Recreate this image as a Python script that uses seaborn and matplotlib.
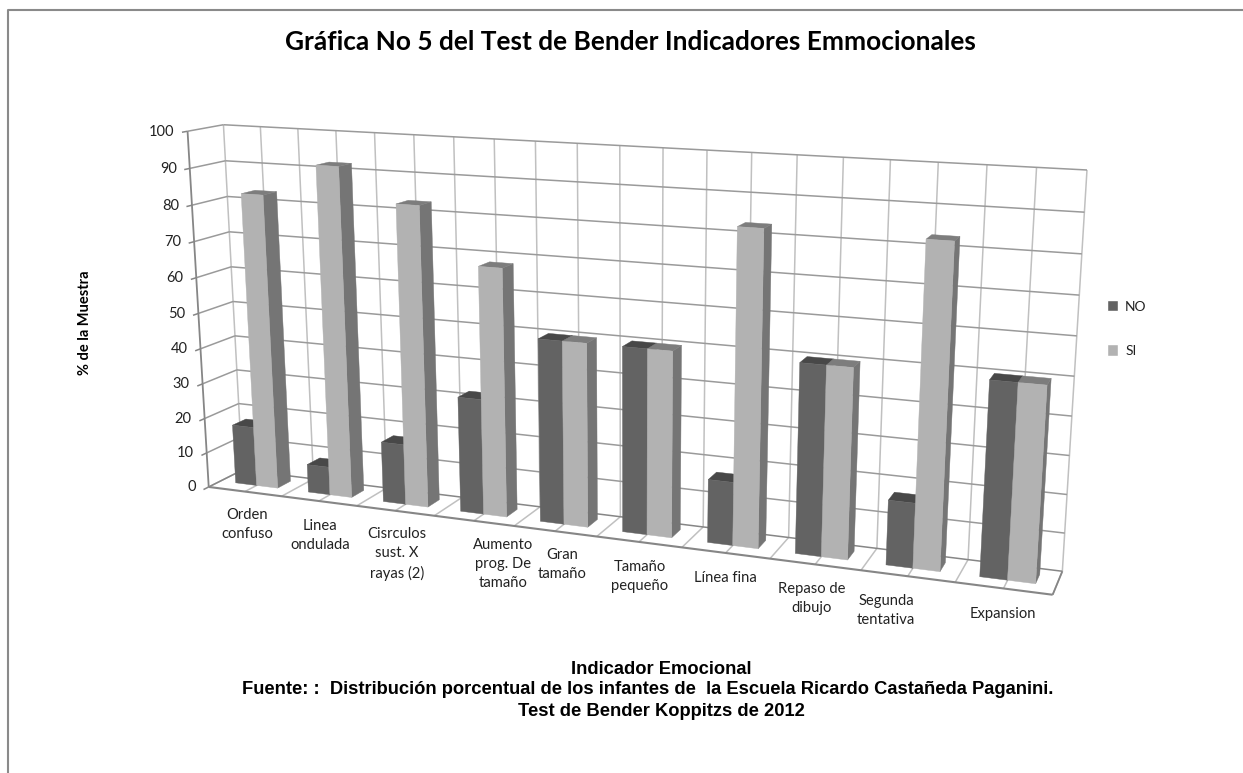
import numpy as np
import matplotlib
matplotlib.use("Agg")
import matplotlib.pyplot as plt
from matplotlib.patches import Polygon, Patch
import seaborn as sns

# Chart values (% of the sample)
categories = ["Orden\nconfuso", "Linea\nondulada", "Cisrculos\nsust. X\nrayas (2)",
              "Aumento\nprog. De\ntamaño", "Gran\ntamaño", "Tamaño\npequeño",
              "Línea fina", "Repaso de\ndibujo", "Segunda\ntentativa", "Expansion"]
no_values = [17, 8, 17, 32, 50, 50, 17, 50, 17, 50]
si_values = [83, 92, 83, 68, 50, 50, 83, 50, 83, 50]
series_names = ["NO", "SI"]
value_ticks = list(range(0, 101, 10))

# Where each category label sits on the page (centre x, top y)
label_anchor = [(247, 508), (320, 519), (397, 527), (503, 538), (562, 548),
                (640, 560), (725, 571), (812, 582), (886, 594), (1003, 607)]

sns.set_theme(style="white")
plt.rcParams["font.family"] = ["Lato", "DejaVu Sans"]
no_colors = {"front": "#636363", "top": "#484848", "side": "#4f4f4f"}
si_colors = {"front": "#b2b2b2", "top": "#7d7d7d", "side": "#757575"}
palette = sns.color_palette([no_colors["front"], si_colors["front"]])

fig = plt.figure(figsize=(12.43, 7.73), dpi=100)
ax = fig.add_axes([0, 0, 1, 1])
ax.set_xlim(0, 1243)
ax.set_ylim(773, 0)
ax.axis("off")

# Camera: box coordinates (category, depth, value) to page pixels
box_pts = [(0, 0, 0), (0, 1, 0), (0, 0, 100), (0, 1, 100), (10, 0, 0), (10, 1, 0), (10, 1, 100)]
page_pts = [(208, 486), (243, 471), (188, 132), (223, 124), (1053, 595), (1062, 571), (1087, 170)]
rows, rhs = [], []
for (bx, by, bz), (px, py) in zip(box_pts, page_pts):
    w = (bx / 10, by, bz / 100, 1)
    rows.append(list(w) + [0, 0, 0, 0] + [-px * c for c in w[:3]])
    rows.append([0, 0, 0, 0] + list(w) + [-py * c for c in w[:3]])
    rhs += [px, py]
sol = np.linalg.lstsq(np.array(rows, float), np.array(rhs, float), rcond=None)[0]
cam = np.append(sol, 1).reshape(3, 4)


def project(u, v, z):
    h = cam @ np.array([u / 10, v, z / 100, 1.0])
    return h[0] / h[2], h[1] / h[2]


def seg(a, b, color, lw, zorder=1):
    pa, pb = project(*a), project(*b)
    ax.plot([pa[0], pb[0]], [pa[1], pb[1]], color=color, lw=lw, zorder=zorder,
            solid_capstyle="butt")


def quad(corners, color, zorder):
    ax.add_patch(Polygon([project(*c) for c in corners], closed=True, facecolor=color,
                         edgecolor=color, lw=0.3, zorder=zorder))


grid_h = "#9a9a9a"
grid_v = "#c0c0c0"
axis = "#868686"
# Half-category divisions across the back wall and the floor
for d in np.arange(0, 10.5, 0.5):
    seg((d, 1, 0), (d, 1, 100), grid_v, 1.1)
    seg((d, 0, 0), (d, 1, 0), grid_v, 1.1)
# Value gridlines over the back and left walls
for t in value_ticks:
    seg((0, 1, t), (10, 1, t), grid_h if t else axis, 1.1)
    seg((0, 0, t), (0, 1, t), grid_h if t else axis, 1.1)
    seg((0, 0, t), (0, -0.15, t), axis, 1.1)
    tx, ty = project(0, 0, t)
    ax.text(tx - 13, ty + 0.5, str(t), ha="right", va="center", fontsize=10.5, color="#222222")
seg((0, 0, 0), (0, 0, 100), axis, 1.3, 2)
seg((0, 0, 0), (10, 0, 0), axis, 1.5, 2)
seg((10, 0, 0), (10, 1, 0), axis, 1.3, 2)

# Bars, left to right so the nearer ones overlap the farther ones
half = 0.29
v0, v1 = 0.35, 0.75
zo = 5
for i, (no, si) in enumerate(zip(no_values, si_values)):
    c = i + 0.5
    for (a, b), val, col in (((c - half, c), no, no_colors), ((c, c + half), si, si_colors)):
        quad([(b, v0, 0), (b, v1, 0), (b, v1, val), (b, v0, val)], col["side"], zo)
        quad([(a, v0, val), (b, v0, val), (b, v1, val), (a, v1, val)], col["top"], zo + 1)
        quad([(a, v0, 0), (b, v0, 0), (b, v0, val), (a, v0, val)], col["front"], zo + 2)
        zo += 3

for name, (lx, ly) in zip(categories, label_anchor):
    ax.text(lx, ly, name, ha="center", va="top", fontsize=10.6, color="#222222", linespacing=1.46)

ax.text(630, 42, "Gráfica No 5 del Test de Bender Indicadores Emmocionales",
        ha="center", va="center", fontsize=18.9, fontweight="bold", color="black")
ax.text(85, 323, "% de la Muestra", rotation=90, ha="center", va="center",
        fontsize=10.5, fontweight="bold", color="black")
footer_lines = [(661, 669, "Indicador Emocional"),
                (647.5, 690, "Fuente: :  Distribución porcentual de los infantes de  la Escuela Ricardo Castañeda Paganini."),
                (661, 711, "Test de Bender Koppitzs de 2012")]
for fx, fy, line in footer_lines:
    ax.text(fx, fy, line, ha="center", va="center", fontsize=13.2, fontweight="bold",
            color="black", family="Liberation Sans")

ax.legend(handles=[Patch(facecolor=palette[0], label=series_names[0]),
                   Patch(facecolor=palette[1], label=series_names[1])],
          loc="center left", bbox_to_anchor=(1094 / 1243, 1 - 328.5 / 773), frameon=False,
          handlelength=0.85, handleheight=0.85, handletextpad=0.5, labelspacing=2.3,
          fontsize=10, labelcolor="#222222")

# Chart area border: only the top and left edges fall inside the page
ax.plot([8, 8, 1243], [773, 10, 10], color="#8a8a8a", lw=1.5, zorder=1)

fig.savefig("out.png", dpi=100)
